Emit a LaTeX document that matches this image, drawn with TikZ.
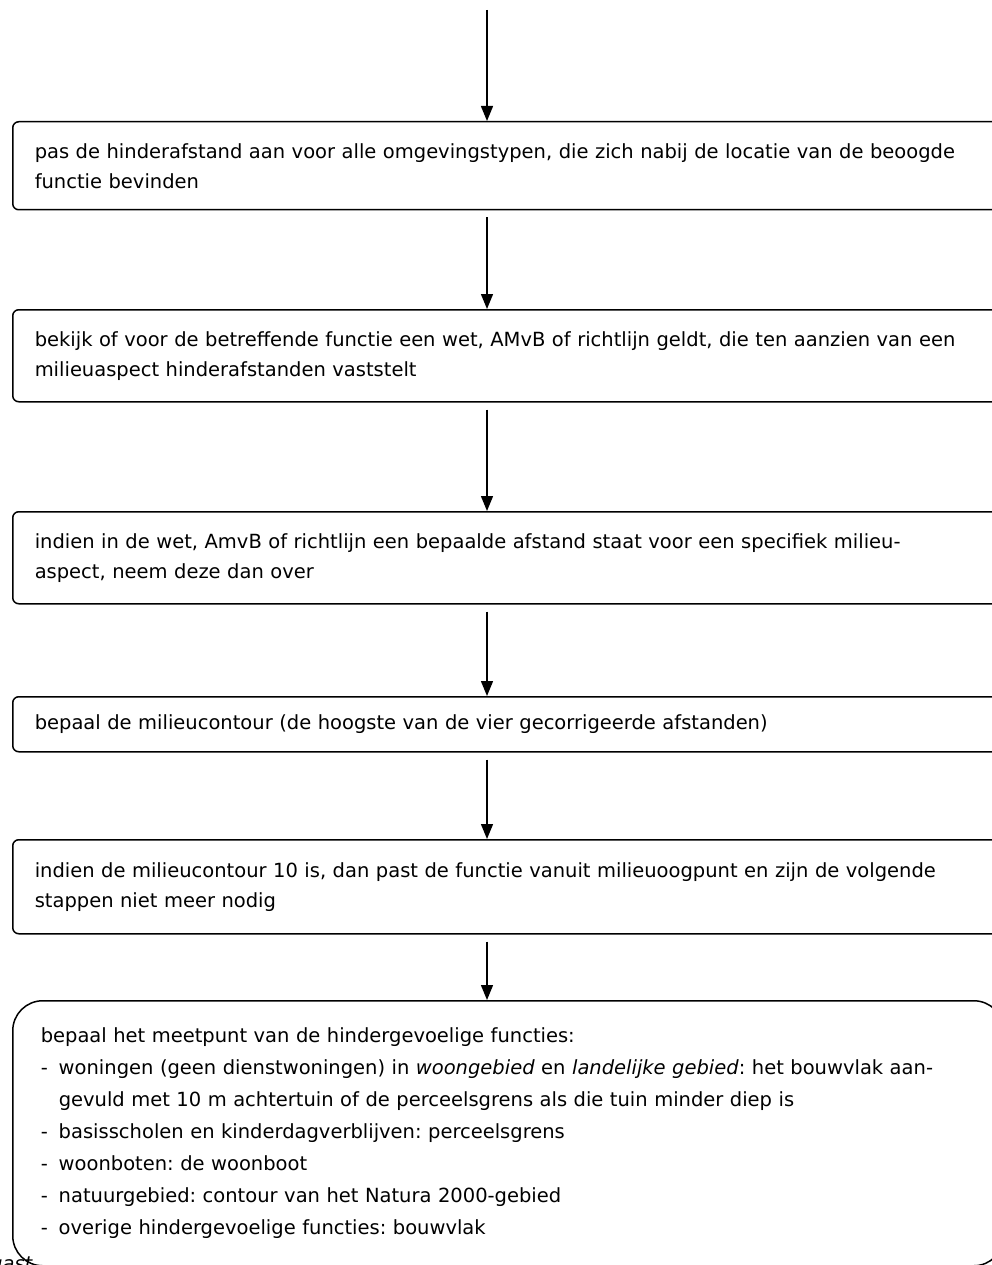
\documentclass[tikz,border=0pt]{standalone}
\usepackage{fontspec}
\setmainfont{DejaVu Sans}
\frenchspacing
\usetikzlibrary{positioning}
\usetikzlibrary{calc}
\usetikzlibrary{arrows.meta}
\tikzset{>={Triangle[length=15pt,width=12pt]}}
\tikzset{stap/.style={rectangle, rounded corners=6pt, draw, line width=1.5pt, anchor=north west,
        text width=956pt, inner xsep=22pt, inner ysep=0pt, minimum height=#1, align=left,
        font=\fontsize{19.5}{30}\selectfont}}
\tikzset{eindstap/.style={stap=265pt, rounded corners=30pt, text width=935pt, inner xsep=28pt,
        font=\fontsize{19.5}{32}\selectfont}}
\tikzset{pijl/.style={->, line width=1.4pt, shorten <=7pt}}
\newcommand{\streep}{\makebox[18pt][l]{-}}

\begin{document}
\begin{tikzpicture}[x=1pt, y=1pt]
    \useasboundingbox (0,0) rectangle (992,-1265);
    \clip (0,0) rectangle (992,-1265);

    % ------- de stappen ------- %
    \coordinate (kol) at (487,-10);
    \node [stap=88pt] (s1) at (12,-121) {pas de hinderafstand aan voor alle omgevingstypen, die zich nabij de locatie van de beoogde\\
        functie bevinden};
    \node [stap=92pt] (s2) at (12,-309) {bekijk of voor de betreffende functie een wet, AMvB of richtlijn geldt, die ten aanzien van een\\
        milieuaspect hinderafstanden vaststelt};
    \node [stap=92pt] (s3) at (12,-511) {indien in de wet, AmvB of richtlijn een bepaalde afstand staat voor een specifiek milieu-\\
        aspect, neem deze dan over};
    \node [stap=55pt] (s4) at (12,-696) {bepaal de milieucontour (de hoogste van de vier gecorrigeerde afstanden)};
    \node [stap=94pt] (s5) at (12,-839) {indien de milieucontour 10 is, dan past de functie vanuit milieuoogpunt en zijn de volgende\\
        stappen niet meer nodig};

    % The last step, with the list of measuring points.
    \node [eindstap] (s6) at (12,-1000) {bepaal het meetpunt van de hindergevoelige functies:\\
        \streep woningen (geen dienstwoningen) in \textit{woongebied} en \textit{landelijke gebied}: het bouwvlak aan-\\
        \hspace*{18pt}gevuld met 10 m achtertuin of de perceelsgrens als die tuin minder diep is\\
        \streep basisscholen en kinderdagverblijven: perceelsgrens\\
        \streep woonboten: de woonboot\\
        \streep natuurgebied: contour van het Natura 2000-gebied\\
        \streep overige hindergevoelige functies: bouwvlak\\[14pt]};

    % A cut-off caption at the lower left.
    \node [anchor=base west, inner sep=0pt, font=\fontsize{19.5}{30}\selectfont\itshape] (opschrift) at (-10,-1270) {gast};

    % ------- de pijlen ------- %
    \draw [->, line width=1.4pt] (kol) -- (s1.north -| kol);
    \draw [pijl] (s1.south -| kol) -- (s2.north -| kol);
    \draw [pijl] (s2.south -| kol) -- (s3.north -| kol);
    \draw [pijl] (s3.south -| kol) -- (s4.north -| kol);
    \draw [pijl] (s4.south -| kol) -- (s5.north -| kol);
    \draw [pijl] (s5.south -| kol) -- (s6.north -| kol);
\end{tikzpicture}
\end{document}
